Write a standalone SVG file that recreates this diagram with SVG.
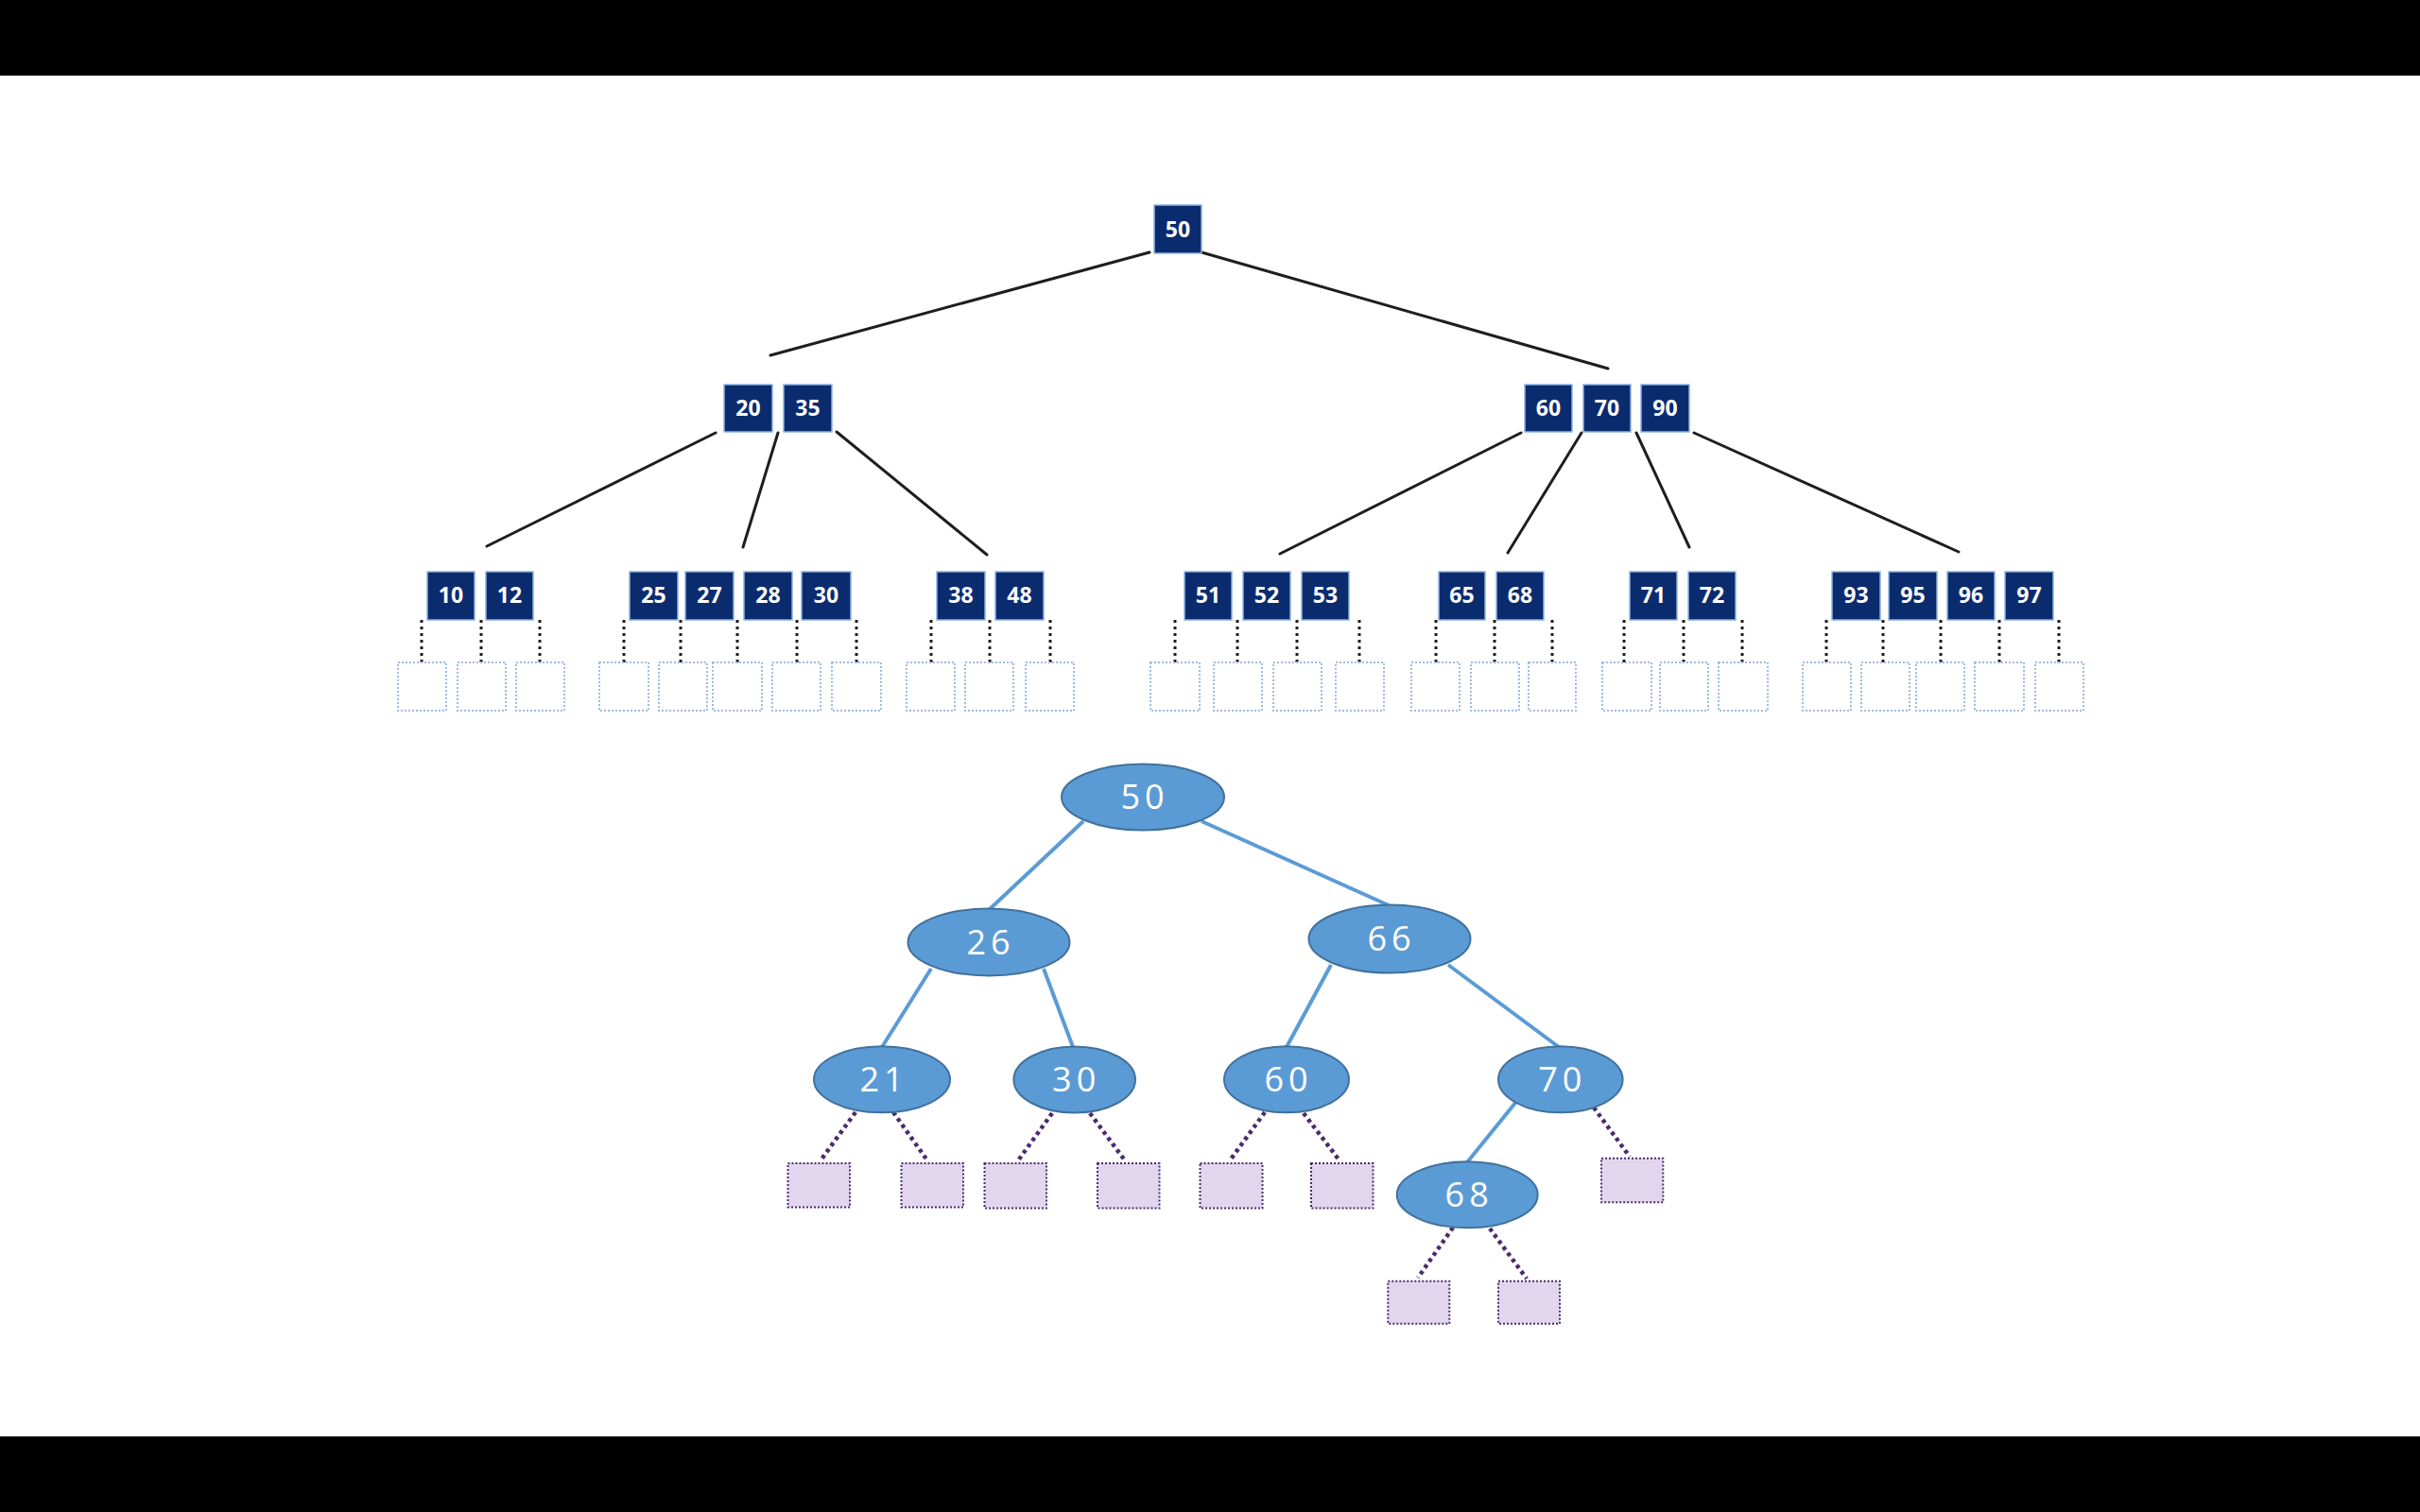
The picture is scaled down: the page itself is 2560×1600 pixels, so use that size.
<svg xmlns="http://www.w3.org/2000/svg" width="2560" height="1600" viewBox="0 0 2560 1600">
<style>
.key{fill:#0b2b6f;stroke:#8db3e2;stroke-width:1.5}
.kt{font-family:"Open Sans","Liberation Sans",sans-serif;font-weight:700;font-size:23px;fill:#ffffff;text-anchor:middle}
.empty{fill:#ffffff;stroke:#9dbde3;stroke-width:2;stroke-dasharray:2 2}
.edge{stroke:#1e1e1e;stroke-width:3;fill:none;stroke-linecap:round}
.ptr{stroke:#1e1e1e;stroke-width:3;fill:none;stroke-dasharray:3 4}
.bn{fill:#5b9bd5;stroke:#41719c;stroke-width:2}
.bt{font-family:"Open Sans","Noto Sans",sans-serif;font-size:36px;fill:#ffffff;text-anchor:middle;letter-spacing:5px}
.bedge{stroke:#5b9bd5;stroke-width:4;fill:none}
.nil{stroke:#4b2a6e;stroke-width:4.5;fill:none;stroke-dasharray:4 4}
.leaf{fill:#e2d6ee;stroke:#4b2a6e;stroke-width:2;stroke-dasharray:2 2}
</style>
<rect x="0" y="0" width="2560" height="1600" fill="#ffffff"/>
<rect x="0" y="0" width="2560" height="80" fill="#000000"/>
<rect x="0" y="1520" width="2560" height="80" fill="#000000"/>

<g id="connectors">
  <!-- B-tree edges -->
  <line class="edge" x1="1216" y1="267" x2="815" y2="376"/>
  <line class="edge" x1="1271" y1="267" x2="1701" y2="390"/>
  <line class="edge" x1="757" y1="458" x2="515" y2="578"/>
  <line class="edge" x1="823" y1="458" x2="786" y2="579"/>
  <line class="edge" x1="885" y1="457" x2="1044" y2="587"/>
  <line class="edge" x1="1609" y1="458" x2="1354" y2="586"/>
  <line class="edge" x1="1673" y1="458" x2="1595" y2="585"/>
  <line class="edge" x1="1731" y1="458" x2="1787" y2="579"/>
  <line class="edge" x1="1792" y1="458" x2="2072" y2="584"/>
  <!-- B-tree leaf pointers -->
  <g class="ptr">
    <line x1="446" y1="656" x2="446" y2="701"/>
    <line x1="509" y1="656" x2="509" y2="701"/>
    <line x1="571" y1="656" x2="571" y2="701"/>
    <line x1="660" y1="656" x2="660" y2="701"/>
    <line x1="720" y1="656" x2="720" y2="701"/>
    <line x1="780" y1="656" x2="780" y2="701"/>
    <line x1="843" y1="656" x2="843" y2="701"/>
    <line x1="906" y1="656" x2="906" y2="701"/>
    <line x1="985" y1="656" x2="985" y2="701"/>
    <line x1="1047" y1="656" x2="1047" y2="701"/>
    <line x1="1111" y1="656" x2="1111" y2="701"/>
    <line x1="1243" y1="656" x2="1243" y2="701"/>
    <line x1="1309" y1="656" x2="1309" y2="701"/>
    <line x1="1372" y1="656" x2="1372" y2="701"/>
    <line x1="1438" y1="656" x2="1438" y2="701"/>
    <line x1="1519" y1="656" x2="1519" y2="701"/>
    <line x1="1581" y1="656" x2="1581" y2="701"/>
    <line x1="1642" y1="656" x2="1642" y2="701"/>
    <line x1="1718" y1="656" x2="1718" y2="701"/>
    <line x1="1781" y1="656" x2="1781" y2="701"/>
    <line x1="1843" y1="656" x2="1843" y2="701"/>
    <line x1="1932" y1="656" x2="1932" y2="701"/>
    <line x1="1992" y1="656" x2="1992" y2="701"/>
    <line x1="2053" y1="656" x2="2053" y2="701"/>
    <line x1="2115" y1="656" x2="2115" y2="701"/>
    <line x1="2178" y1="656" x2="2178" y2="701"/>
  </g>
  <!-- BST edges -->
  <line class="bedge" x1="1146" y1="869" x2="1047" y2="962"/>
  <line class="bedge" x1="1271" y1="869" x2="1469" y2="958"/>
  <line class="bedge" x1="985" y1="1025" x2="933" y2="1108"/>
  <line class="bedge" x1="1104" y1="1025" x2="1135" y2="1108"/>
  <line class="bedge" x1="1408" y1="1021" x2="1361" y2="1108"/>
  <line class="bedge" x1="1532" y1="1021" x2="1649" y2="1108"/>
  <line class="bedge" x1="1603" y1="1167" x2="1552" y2="1230"/>
  <!-- BST null pointers -->
  <g class="nil">
    <line x1="905" y1="1177" x2="868" y2="1228"/>
    <line x1="945" y1="1177" x2="981" y2="1228"/>
    <line x1="1113" y1="1178" x2="1077" y2="1228"/>
    <line x1="1153" y1="1178" x2="1190" y2="1228"/>
    <line x1="1338" y1="1177" x2="1301" y2="1228"/>
    <line x1="1379" y1="1178" x2="1417" y2="1228"/>
    <line x1="1686" y1="1172" x2="1724" y2="1224"/>
    <line x1="1537" y1="1299" x2="1500" y2="1352"/>
    <line x1="1576" y1="1300" x2="1615" y2="1353"/>
  </g>
</g>

<!-- B-tree internal nodes -->
<g id="bt-root">
  <rect class="key" x="1221" y="217" width="50" height="51"/>
  <text class="kt" x="1246" y="251">50</text>
</g>
<g id="bt-20-35">
  <rect class="key" x="766" y="407" width="51" height="50"/>
  <text class="kt" x="791.5" y="440">20</text>
  <rect class="key" x="829" y="407" width="51" height="50"/>
  <text class="kt" x="854.5" y="440">35</text>
</g>
<g id="bt-60-70-90">
  <rect class="key" x="1613" y="407" width="50" height="50"/>
  <text class="kt" x="1638" y="440">60</text>
  <rect class="key" x="1675" y="407" width="50" height="50"/>
  <text class="kt" x="1700" y="440">70</text>
  <rect class="key" x="1736" y="407" width="51" height="50"/>
  <text class="kt" x="1761.5" y="440">90</text>
</g>

<!-- B-tree leaves -->
<g id="bt-10-12">
  <rect class="key" x="452" y="605" width="50" height="51"/><text class="kt" x="477" y="638">10</text>
  <rect class="key" x="514" y="605" width="50" height="51"/><text class="kt" x="539" y="638">12</text>
  <rect class="empty" x="421" y="701" width="51" height="51"/>
  <rect class="empty" x="484" y="701" width="51" height="51"/>
  <rect class="empty" x="546" y="701" width="51" height="51"/>
</g>
<g id="bt-25-27-28-30">
  <rect class="key" x="666" y="605" width="51" height="51"/><text class="kt" x="691.5" y="638">25</text>
  <rect class="key" x="725" y="605" width="51" height="51"/><text class="kt" x="750.5" y="638">27</text>
  <rect class="key" x="787" y="605" width="51" height="51"/><text class="kt" x="812.5" y="638">28</text>
  <rect class="key" x="848" y="605" width="52" height="51"/><text class="kt" x="874" y="638">30</text>
  <rect class="empty" x="634" y="701" width="52" height="51"/>
  <rect class="empty" x="697" y="701" width="51" height="51"/>
  <rect class="empty" x="754" y="701" width="52" height="51"/>
  <rect class="empty" x="817" y="701" width="51" height="51"/>
  <rect class="empty" x="880" y="701" width="52" height="51"/>
</g>
<g id="bt-38-48">
  <rect class="key" x="991" y="605" width="51" height="51"/><text class="kt" x="1016.5" y="638">38</text>
  <rect class="key" x="1053" y="605" width="51" height="51"/><text class="kt" x="1078.5" y="638">48</text>
  <rect class="empty" x="959" y="701" width="51" height="51"/>
  <rect class="empty" x="1021" y="701" width="51" height="51"/>
  <rect class="empty" x="1085" y="701" width="51" height="51"/>
</g>
<g id="bt-51-52-53">
  <rect class="key" x="1253" y="605" width="50" height="51"/><text class="kt" x="1278" y="638">51</text>
  <rect class="key" x="1315" y="605" width="50" height="51"/><text class="kt" x="1340" y="638">52</text>
  <rect class="key" x="1377" y="605" width="50" height="51"/><text class="kt" x="1402" y="638">53</text>
  <rect class="empty" x="1217" y="701" width="52" height="51"/>
  <rect class="empty" x="1284" y="701" width="51" height="51"/>
  <rect class="empty" x="1347" y="701" width="51" height="51"/>
  <rect class="empty" x="1413" y="701" width="51" height="51"/>
</g>
<g id="bt-65-68">
  <rect class="key" x="1522" y="605" width="49" height="51"/><text class="kt" x="1546.5" y="638">65</text>
  <rect class="key" x="1583" y="605" width="50" height="51"/><text class="kt" x="1608" y="638">68</text>
  <rect class="empty" x="1493" y="701" width="51" height="51"/>
  <rect class="empty" x="1556" y="701" width="51" height="51"/>
  <rect class="empty" x="1617" y="701" width="50" height="51"/>
</g>
<g id="bt-71-72">
  <rect class="key" x="1724" y="605" width="50" height="51"/><text class="kt" x="1749" y="638">71</text>
  <rect class="key" x="1786" y="605" width="50" height="51"/><text class="kt" x="1811" y="638">72</text>
  <rect class="empty" x="1695" y="701" width="52" height="51"/>
  <rect class="empty" x="1756" y="701" width="51" height="51"/>
  <rect class="empty" x="1818" y="701" width="52" height="51"/>
</g>
<g id="bt-93-95-96-97">
  <rect class="key" x="1938" y="605" width="51" height="51"/><text class="kt" x="1963.5" y="638">93</text>
  <rect class="key" x="1998" y="605" width="51" height="51"/><text class="kt" x="2023.5" y="638">95</text>
  <rect class="key" x="2060" y="605" width="50" height="51"/><text class="kt" x="2085" y="638">96</text>
  <rect class="key" x="2121" y="605" width="51" height="51"/><text class="kt" x="2146.5" y="638">97</text>
  <rect class="empty" x="1907" y="701" width="51" height="51"/>
  <rect class="empty" x="1969" y="701" width="51" height="51"/>
  <rect class="empty" x="2027" y="701" width="51" height="51"/>
  <rect class="empty" x="2089" y="701" width="52" height="51"/>
  <rect class="empty" x="2153" y="701" width="51" height="51"/>
</g>

<!-- Binary search tree -->
<g id="bst-50"><ellipse class="bn" cx="1209" cy="843.5" rx="86" ry="35"/><text class="bt" x="1211" y="856">50</text></g>
<g id="bst-26"><ellipse class="bn" cx="1046" cy="997" rx="85.5" ry="35.5"/><text class="bt" x="1048" y="1010">26</text></g>
<g id="bst-66"><ellipse class="bn" cx="1470" cy="993.5" rx="85.5" ry="36"/><text class="bt" x="1472" y="1006">66</text></g>
<g id="bst-21"><ellipse class="bn" cx="933" cy="1142.3" rx="72" ry="35"/><text class="bt" x="935" y="1155">21</text></g>
<g id="bst-30"><ellipse class="bn" cx="1136.7" cy="1142.5" rx="64.3" ry="35"/><text class="bt" x="1138.7" y="1155">30</text></g>
<g id="bst-60"><ellipse class="bn" cx="1361" cy="1142.3" rx="66" ry="35"/><text class="bt" x="1363" y="1155">60</text></g>
<g id="bst-70"><ellipse class="bn" cx="1650.8" cy="1142.3" rx="65.8" ry="35"/><text class="bt" x="1652.8" y="1155">70</text></g>
<g id="bst-68"><ellipse class="bn" cx="1552.2" cy="1264.3" rx="74.5" ry="35"/><text class="bt" x="1554.2" y="1277">68</text></g>

<g id="bst-nil-1"><rect class="leaf" x="833.5" y="1231" width="65.5" height="46.5"/></g>
<g id="bst-nil-2"><rect class="leaf" x="953.5" y="1231" width="65.5" height="46.5"/></g>
<g id="bst-nil-3"><rect class="leaf" x="1041.5" y="1231" width="65.5" height="47.5"/></g>
<g id="bst-nil-4"><rect class="leaf" x="1161" y="1231" width="65.5" height="47.5"/></g>
<g id="bst-nil-5"><rect class="leaf" x="1269.5" y="1231" width="66" height="47.5"/></g>
<g id="bst-nil-6"><rect class="leaf" x="1387" y="1231" width="65.5" height="47.5"/></g>
<g id="bst-nil-7"><rect class="leaf" x="1694" y="1225.7" width="65.3" height="46.6"/></g>
<g id="bst-nil-8"><rect class="leaf" x="1468.3" y="1355.7" width="65" height="45"/></g>
<g id="bst-nil-9"><rect class="leaf" x="1585" y="1355.7" width="65" height="45"/></g>
</svg>
